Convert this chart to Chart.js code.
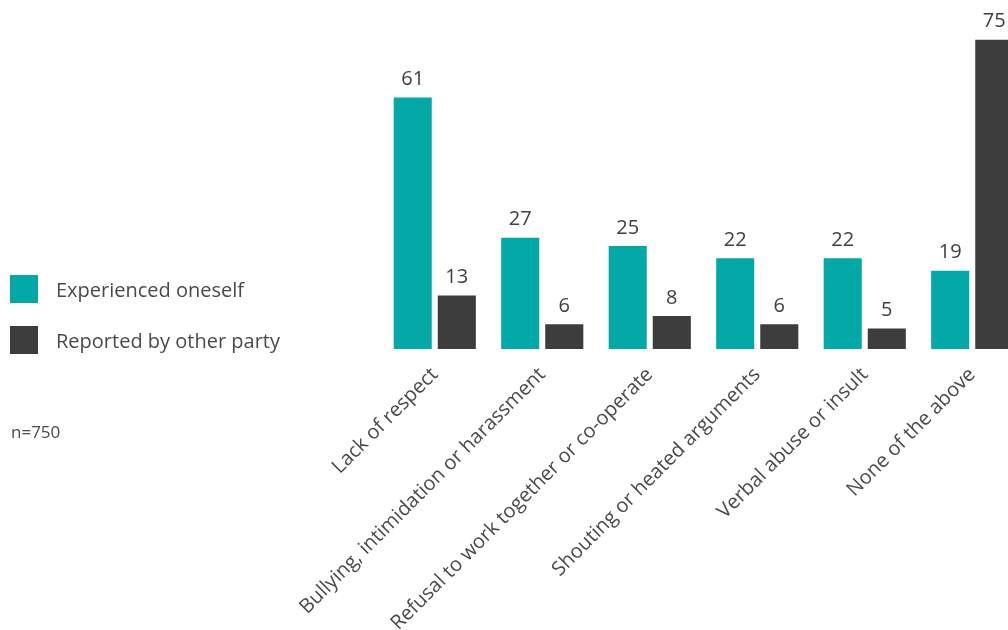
<!DOCTYPE html>
<html>
<head>
<meta charset="utf-8">
<script src="https://cdn.jsdelivr.net/npm/chart.js@4/dist/chart.umd.min.js"></script>
<style>
  html, body { margin: 0; padding: 0; background: #fff; overflow: hidden; }
  body { width: 1008px; height: 630px; position: relative; font-family: "Open Sans", sans-serif; color: #4a4a4a; }
  #wrap { position: absolute; left: 0; top: 0; width: 1040px; height: 630px; }
  #legend { position: absolute; left: 10px; top: 275px; }
  .item { display: flex; align-items: center; height: 28px; margin-bottom: 23px; font-size: 20px; }
  .swatch { width: 28px; height: 28px; margin-right: 18px; }
  #note { position: absolute; left: 11px; top: 420px; font-size: 17px; }
</style>
</head>
<body>
<div id="wrap"><canvas id="chart"></canvas></div>
<div id="legend"></div>
<div id="note">n=750</div>
<script>
const categories = [
  'Lack of respect',
  'Bullying, intimidation or harassment',
  'Refusal to work together or co-operate',
  'Shouting or heated arguments',
  'Verbal abuse or insult',
  'None of the above'
];
const experienced = [61, 27, 25, 22, 22, 19];
const reported = [13, 6, 8, 6, 5, 75];
const seriesNames = ['Experienced oneself', 'Reported by other party'];
const seriesColors = ['#02a9a6', '#3d3d3d'];

// legend on the left
const legendEl = document.getElementById('legend');
legendEl.innerHTML = seriesNames.map((name, i) =>
  `<div class="item"><div class="swatch" style="background:${seriesColors[i]}"></div>${name}</div>`
).join('');

// numbers above the bars
const valueLabels = {
  id: 'valueLabels',
  afterDatasetsDraw(chart) {
    const ctx = chart.ctx;
    ctx.save();
    ctx.font = '20px "Open Sans", sans-serif';
    ctx.fillStyle = '#404040';
    ctx.textAlign = 'center';
    ctx.textBaseline = 'bottom';
    chart.data.datasets.forEach((ds, i) => {
      chart.getDatasetMeta(i).data.forEach((bar, j) => {
        ctx.fillText(ds.data[j], bar.x, bar.y - 8);
      });
    });
    ctx.restore();
  }
};

new Chart(document.getElementById('chart'), {
  type: 'bar',
  data: {
    labels: categories,
    datasets: [{
      label: seriesNames[0],
      data: experienced,
      backgroundColor: seriesColors[0]
    }, {
      label: seriesNames[1],
      data: reported,
      backgroundColor: seriesColors[1]
    }]
  },
  options: {
    responsive: true,
    maintainAspectRatio: false,
    animation: false,
    categoryPercentage: 0.82,
    barPercentage: 0.864,
    layout: { padding: { left: 381, right: 14, top: 19, bottom: 0 } },
    plugins: {
      legend: { display: false },
      tooltip: { enabled: false }
    },
    scales: {
      x: {
        grid: { display: false, drawTicks: false },
        border: { display: false },
        ticks: {
          autoSkip: false,
          maxRotation: 45,
          minRotation: 45,
          padding: 14,
          color: '#4a4a4a',
          font: { family: 'Open Sans', size: 20 }
        },
        afterFit(scale) { scale.height = 281; }
      },
      y: {
        display: false,
        min: 0,
        max: 80
      }
    }
  },
  plugins: [valueLabels]
});
</script>
</body>
</html>
